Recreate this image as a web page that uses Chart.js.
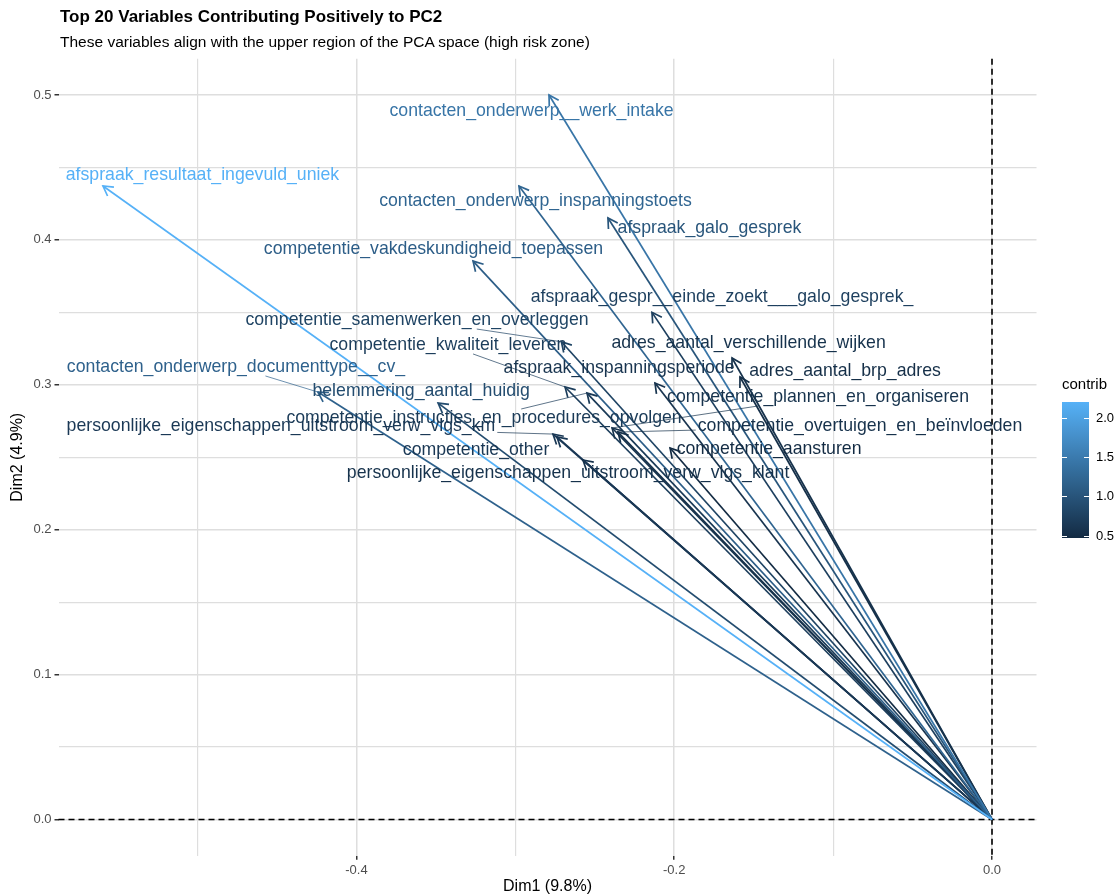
<!DOCTYPE html>
<html>
<head>
<meta charset="utf-8">
<script src="https://cdn.jsdelivr.net/npm/chart.js@4.4.0/dist/chart.umd.min.js"></script>
<style>
  body { margin: 0; background: #fff; font-family: "Liberation Sans", Arial, sans-serif; }
  #wrap { position: relative; width: 1120px; height: 896px; }
  #pca { position: absolute; left: 0; top: 0; }
  #title { position: absolute; left: 60px; top: 7px; font-size: 17px; line-height: 20px; font-weight: bold; color: #000; }
  #subtitle { position: absolute; left: 60px; top: 33px; font-size: 15.5px; line-height: 18px; color: #000; }
</style>
</head>
<body>
<div id="wrap">
  <canvas id="pca" width="1120" height="896"></canvas>
  <div id="title">Top 20 Variables Contributing Positively to PC2</div>
  <div id="subtitle">These variables align with the upper region of the PCA space (high risk zone)</div>
</div>
<script>
// variables (top 20 by PC2)
var varNames = [
  'afspraak_resultaat_ingevuld_uniek',
  'contacten_onderwerp__werk_intake',
  'contacten_onderwerp_inspanningstoets',
  'afspraak_galo_gesprek',
  'competentie_vakdeskundigheid_toepassen',
  'afspraak_gespr__einde_zoekt___galo_gesprek_',
  'competentie_samenwerken_en_overleggen',
  'adres_aantal_verschillende_wijken',
  'competentie_kwaliteit_leveren',
  'contacten_onderwerp_documenttype__cv_',
  'adres_aantal_brp_adres',
  'afspraak_inspanningsperiode',
  'belemmering_aantal_huidig',
  'competentie_plannen_en_organiseren',
  'competentie_instructies_en_procedures_opvolgen',
  'persoonlijke_eigenschappen_uitstroom_verw_vlgs_km',
  'competentie_overtuigen_en_beïnvloeden',
  'competentie_other',
  'competentie_aansturen',
  'persoonlijke_eigenschappen_uitstroom_verw_vlgs_klant'
];
var dim1 = [-0.5595, -0.2788, -0.2977, -0.2417, -0.3266, -0.2140, -0.2710, -0.1636, -0.2687, -0.4242,
            -0.1586, -0.2121, -0.3486, -0.2391, -0.2549, -0.2763, -0.2354, -0.2738, -0.2026, -0.2574];
var dim2 = [0.4372, 0.5000, 0.4372, 0.4151, 0.3854, 0.3500, 0.3297, 0.3185, 0.2985, 0.2950,
            0.3054, 0.3012, 0.2874, 0.2702, 0.2943, 0.2660, 0.2674, 0.2640, 0.2564, 0.2481];
var contrib = [2.20, 1.43, 1.22, 1.01, 1.12, 0.73, 0.79, 0.56, 0.70, 1.17,
               0.52, 0.59, 0.89, 0.57, 0.66, 0.64, 0.55, 0.63, 0.47, 0.56];
// where the repelled labels ended up (data units)
var labelDim1 = [-0.4969, -0.2898, -0.2873, -0.1778, -0.3515, -0.1699, -0.3619, -0.1532, -0.3424, -0.4758,
                 -0.0925, -0.2347, -0.3593, -0.1095, -0.3197, -0.4475, -0.0831, -0.3247, -0.1403, -0.2668];
var labelDim2 = [0.4448, 0.4890, 0.4265, 0.4082, 0.3937, 0.3606, 0.3447, 0.3289, 0.3275, 0.3123,
                 0.3095, 0.3116, 0.2957, 0.2916, 0.2771, 0.2716, 0.2716, 0.2550, 0.2557, 0.2391];

var xTicks = [-0.5, -0.4, -0.3, -0.2, -0.1, 0];
var xMajor = [-0.4, -0.2, 0];
var yTicks = [0, 0.05, 0.1, 0.15, 0.2, 0.25, 0.3, 0.35, 0.4, 0.45, 0.5];
var yMajor = [0, 0.1, 0.2, 0.3, 0.4, 0.5];
var legendBreaks = [0.5, 1.0, 1.5, 2.0];

var cMin = Math.min.apply(null, contrib);
var cMax = Math.max.apply(null, contrib);
var lowCol = [19, 43, 67], highCol = [86, 177, 247];

function contribColor(v) {
  var t = (v - cMin) / (cMax - cMin);
  var c = [];
  for (var k = 0; k < 3; k++) c.push(Math.round(lowCol[k] + (highCol[k] - lowCol[k]) * t));
  return 'rgb(' + c.join(',') + ')';
}

function isIn(v, list) {
  for (var i = 0; i < list.length; i++) if (Math.abs(list[i] - v) < 1e-9) return true;
  return false;
}

var datasets = [];
for (var i = 0; i < varNames.length; i++) {
  datasets.push({
    label: varNames[i],
    data: [{x: 0, y: 0}, {x: dim1[i], y: dim2[i]}],
    showLine: true,
    borderColor: contribColor(contrib[i]),
    borderWidth: 1.7,
    pointRadius: 0,
    pointHoverRadius: 0
  });
}

var pcaPlugin = {
  id: 'pcaDecor',
  beforeDatasetsDraw: function(chart) {
    var ctx = chart.ctx, a = chart.chartArea;
    var xs = chart.scales.x, ys = chart.scales.y;
    var x0 = xs.getPixelForValue(0), y0 = ys.getPixelForValue(0);
    ctx.save();
    ctx.strokeStyle = '#000';
    ctx.lineWidth = 1.6;
    ctx.setLineDash([6, 4]);
    ctx.beginPath();
    ctx.moveTo(a.left, y0); ctx.lineTo(a.right, y0);
    ctx.moveTo(x0, a.top); ctx.lineTo(x0, a.bottom);
    ctx.stroke();
    ctx.restore();
  },
  afterDatasetsDraw: function(chart) {
    var ctx = chart.ctx;
    var xs = chart.scales.x, ys = chart.scales.y;
    var ox = xs.getPixelForValue(0), oy = ys.getPixelForValue(0);
    ctx.save();
    // arrow heads
    for (var i = 0; i < dim1.length; i++) {
      var px = xs.getPixelForValue(dim1[i]), py = ys.getPixelForValue(dim2[i]);
      var ang = Math.atan2(py - oy, px - ox);
      var len = 11, spread = Math.PI / 6;
      ctx.strokeStyle = contribColor(contrib[i]);
      ctx.lineWidth = 1.7;
      ctx.beginPath();
      ctx.moveTo(px - len * Math.cos(ang - spread), py - len * Math.sin(ang - spread));
      ctx.lineTo(px, py);
      ctx.lineTo(px - len * Math.cos(ang + spread), py - len * Math.sin(ang + spread));
      ctx.stroke();
    }
    // labels + repel segments
    ctx.font = '17.7px "Liberation Sans", Arial, sans-serif';
    ctx.textAlign = 'center';
    ctx.textBaseline = 'middle';
    for (var j = 0; j < varNames.length; j++) {
      var col = contribColor(contrib[j]);
      var lx = xs.getPixelForValue(labelDim1[j]), ly = ys.getPixelForValue(labelDim2[j]);
      var tx = xs.getPixelForValue(dim1[j]), ty = ys.getPixelForValue(dim2[j]);
      var hw = ctx.measureText(varNames[j]).width / 2 + 2, hh = 9;
      var dx = Math.max(Math.abs(tx - lx) - hw, 0), dy = Math.max(Math.abs(ty - ly) - hh, 0);
      if (Math.sqrt(dx * dx + dy * dy) > 12) {
        var vx = tx - lx, vy = ty - ly;
        var s = Math.min(vx !== 0 ? hw / Math.abs(vx) : 1e9, vy !== 0 ? hh / Math.abs(vy) : 1e9);
        ctx.strokeStyle = col;
        ctx.lineWidth = 0.7;
        ctx.beginPath();
        ctx.moveTo(lx + vx * s, ly + vy * s);
        ctx.lineTo(tx, ty);
        ctx.stroke();
      }
      ctx.fillStyle = col;
      ctx.fillText(varNames[j], lx, ly);
    }
    ctx.restore();
  },
  afterDraw: function(chart) {
    // colour bar legend for contrib
    var ctx = chart.ctx;
    var bx = 1062, bw = 27, top = 402, bot = 538;
    function yOf(v) { return bot - (v - cMin) / (cMax - cMin) * (bot - top); }
    ctx.save();
    ctx.fillStyle = '#000';
    ctx.font = '15px "Liberation Sans", Arial, sans-serif';
    ctx.textAlign = 'left';
    ctx.textBaseline = 'middle';
    ctx.fillText('contrib', 1062, 385);
    var g = ctx.createLinearGradient(0, bot, 0, top);
    for (var k = 0; k <= 10; k++) g.addColorStop(k / 10, contribColor(cMin + (cMax - cMin) * k / 10));
    ctx.fillStyle = g;
    ctx.fillRect(bx, top, bw, bot - top);
    ctx.strokeStyle = '#fff';
    ctx.lineWidth = 1;
    ctx.font = '13px "Liberation Sans", Arial, sans-serif';
    ctx.fillStyle = '#000';
    for (var b = 0; b < legendBreaks.length; b++) {
      var yy = Math.round(yOf(legendBreaks[b])) + 0.5;
      ctx.beginPath();
      ctx.moveTo(bx, yy); ctx.lineTo(bx + 5, yy);
      ctx.moveTo(bx + bw - 5, yy); ctx.lineTo(bx + bw, yy);
      ctx.stroke();
      ctx.fillText(legendBreaks[b].toFixed(1), bx + bw + 7, yy);
    }
    ctx.restore();
  }
};

Chart.defaults.font.family = '"Liberation Sans", Arial, sans-serif';

var ctx = document.getElementById('pca').getContext('2d');
var pcaChart = new Chart(ctx, {
  type: 'scatter',
  data: { datasets: datasets },
  options: {
    responsive: false,
    animation: false,
    layout: { padding: { top: 58.8, right: 83.5, bottom: 0, left: 0 } },
    plugins: { legend: { display: false }, tooltip: { enabled: false } },
    scales: {
      x: {
        type: 'linear',
        min: -0.5875,
        max: 0.028,
        afterBuildTicks: function(s) { s.ticks = xTicks.map(function(v) { return {value: v}; }); },
        afterFit: function(s) { s.height = 40.3; },
        border: { display: false },
        grid: {
          color: '#DEDEDE',
          lineWidth: function(c) { return c.tick && isIn(c.tick.value, xMajor) ? 1.5 : 1.2; },
          tickColor: function(c) { return c.tick && isIn(c.tick.value, xMajor) ? '#333' : 'rgba(0,0,0,0)'; },
          tickLength: 4
        },
        ticks: {
          autoSkip: false,
          maxRotation: 0,
          padding: 3,
          color: '#4D4D4D',
          font: { size: 13 },
          callback: function(v) { return isIn(v, xMajor) ? v.toFixed(1) : ''; }
        },
        title: { display: true, text: 'Dim1 (9.8%)', color: '#000', font: { size: 16 }, padding: { top: 0, bottom: 0 } }
      },
      y: {
        type: 'linear',
        min: -0.025,
        max: 0.525,
        afterBuildTicks: function(s) { s.ticks = yTicks.map(function(v) { return {value: v}; }); },
        afterFit: function(s) { s.width = 58.5; },
        border: { display: false },
        grid: {
          color: '#DEDEDE',
          lineWidth: function(c) { return c.tick && isIn(c.tick.value, yMajor) ? 1.5 : 1.2; },
          tickColor: function(c) { return c.tick && isIn(c.tick.value, yMajor) ? '#333' : 'rgba(0,0,0,0)'; },
          tickLength: 4
        },
        ticks: {
          autoSkip: false,
          padding: 3,
          color: '#4D4D4D',
          font: { size: 13 },
          callback: function(v) { return isIn(v, yMajor) ? v.toFixed(1) : ''; }
        },
        title: { display: true, text: 'Dim2 (4.9%)', color: '#000', font: { size: 16 }, padding: { top: 8, bottom: 0 } }
      }
    }
  },
  plugins: [pcaPlugin]
});
</script>
</body>
</html>
